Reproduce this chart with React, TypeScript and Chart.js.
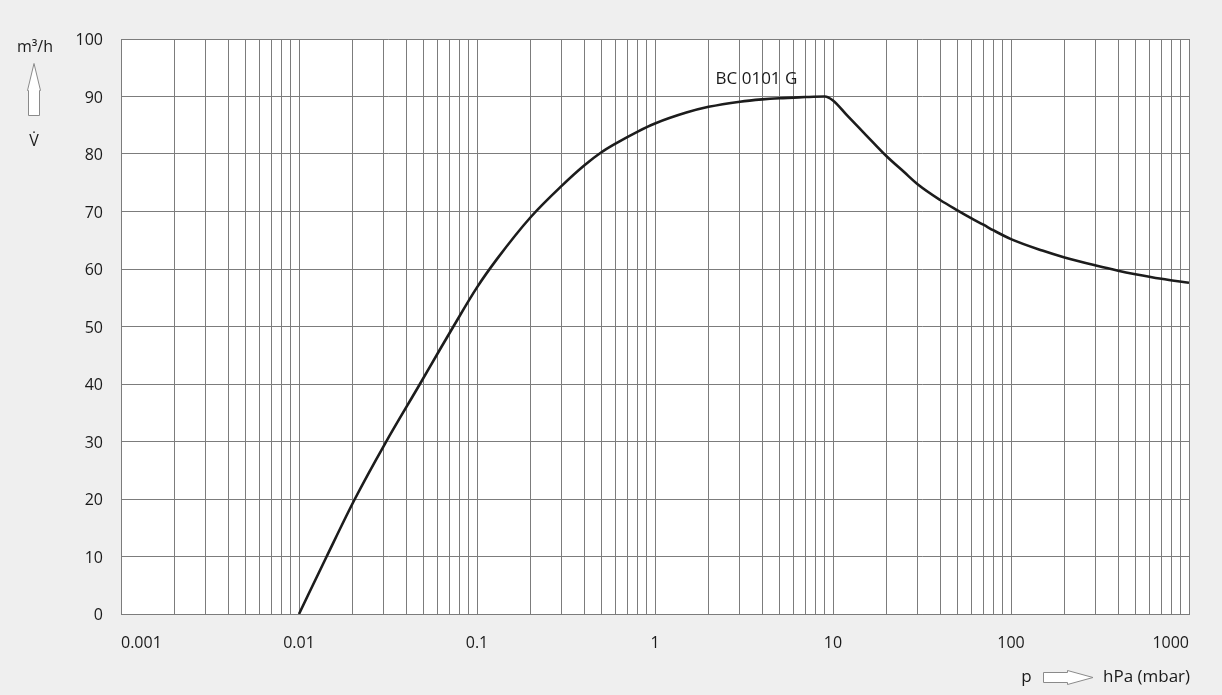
import { useEffect, useRef } from 'react';
import { Chart, registerables } from 'chart.js';

Chart.register(...registerables);

// ---- data ----
const pressure = [
  0.01, 0.0143, 0.0206, 0.0304, 0.0478, 0.0619, 0.0737, 0.1, 0.13, 0.2,
  0.3, 0.4, 0.5, 0.6, 0.8, 1, 1.5, 2, 3, 4,
  5, 6, 7, 9, 10, 12, 15, 20, 25, 30,
  40, 50, 60, 70, 80, 100, 150, 200, 300, 400,
  500, 700, 1000,
];
const flow = [
  0, 10, 20, 29.6, 40, 46, 50, 56.8, 61.8, 69.0,
  74.5, 78.0, 80.3, 81.8, 83.9, 85.3, 87.2, 88.2, 89.1, 89.5,
  89.7, 89.8, 89.9, 90, 89.3, 86.7, 83.6, 79.6, 76.9, 74.7,
  72.0, 70.2, 68.8, 67.7, 66.7, 65.2, 63.2, 62.0, 60.6, 59.7,
  59.1, 58.3, 57.6,
];
const xDecades = [0.001, 0.01, 0.1, 1, 10, 100, 1000];
const xTickLabels = ['0.001', '0.01', '0.1', '1', '10', '100', '1000'];
const yTicks = [0, 10, 20, 30, 40, 50, 60, 70, 80, 90, 100];
const curveLabel = 'BC 0101 G';
const curveLabelAt = [2.19, 93.1];
const yUnit = 'm³/h';
const ySymbol = 'V̇';
const xSymbol = 'p';
const xUnit = 'hPa (mbar)';

const FONT = '"Open Sans", "DejaVu Sans", sans-serif';
const TEXT = '#1a1a1a';
const GRID = '#7c7c7c';

const decor = {
  id: 'decor',
  beforeDraw(chart: any) {
    const { ctx, chartArea: a } = chart;
    ctx.save();
    ctx.fillStyle = '#ffffff';
    ctx.fillRect(a.left, a.top, a.right - a.left, a.bottom - a.top);
    ctx.restore();
  },
  afterDraw(chart: any) {
    const ctx = chart.ctx;
    const xs = chart.scales.x;
    const ys = chart.scales.y;
    ctx.save();
    ctx.font = `17px ${FONT}`;
    ctx.fillStyle = TEXT;
    ctx.textBaseline = 'middle';
    ctx.textAlign = 'left';
    ctx.fillText(curveLabel, xs.getPixelForValue(curveLabelAt[0]), ys.getPixelForValue(curveLabelAt[1]));

    ctx.font = `16px ${FONT}`;
    ctx.textAlign = 'center';
    ctx.textBaseline = 'alphabetic';
    ctx.fillText(yUnit, 35, 52);
    ctx.fillText(ySymbol, 34, 146);

    // up arrow
    ctx.fillStyle = '#ffffff';
    ctx.strokeStyle = '#8a8a8a';
    ctx.lineWidth = 1;
    ctx.beginPath();
    ctx.moveTo(34, 63.5);
    ctx.lineTo(40.5, 90.5);
    ctx.lineTo(39.5, 90.5);
    ctx.lineTo(39.5, 115.5);
    ctx.lineTo(28.5, 115.5);
    ctx.lineTo(28.5, 90.5);
    ctx.lineTo(27.5, 90.5);
    ctx.closePath();
    ctx.fill();
    ctx.stroke();

    // right arrow
    ctx.beginPath();
    ctx.moveTo(1043.5, 672.5);
    ctx.lineTo(1067.5, 672.5);
    ctx.lineTo(1067.5, 670.5);
    ctx.lineTo(1093, 677.5);
    ctx.lineTo(1067.5, 684.5);
    ctx.lineTo(1067.5, 682.5);
    ctx.lineTo(1043.5, 682.5);
    ctx.closePath();
    ctx.fill();
    ctx.stroke();

    ctx.font = `17px ${FONT}`;
    ctx.fillStyle = TEXT;
    ctx.textAlign = 'center';
    ctx.fillText(xSymbol, 1026.5, 682);
    ctx.textAlign = 'left';
    ctx.fillText(xUnit, 1103, 682);
    ctx.restore();
  },
};

export default function App() {
  const ref = useRef<HTMLCanvasElement | null>(null);

  useEffect(() => {
    if (!ref.current) return;
    const points = pressure.map((p, i) => ({ x: p, y: flow[i] }));
    const chart = new Chart(ref.current, {
      type: 'line',
      data: {
        datasets: [
          {
            label: curveLabel,
            data: points,
            borderColor: '#1c1c1c',
            borderWidth: 2.6,
            pointRadius: 0,
            cubicInterpolationMode: 'monotone',
            fill: false,
          },
        ],
      },
      options: {
        animation: false,
        responsive: false,
        devicePixelRatio: 1,
        layout: { padding: { left: 0, right: 33, top: 39, bottom: 0 } },
        plugins: { legend: { display: false }, tooltip: { enabled: false } },
        scales: {
          x: {
            type: 'logarithmic',
            min: 0.001,
            max: 1000,
            afterBuildTicks(scale: any) {
              const ticks: any[] = [];
              for (let d = 0; d < xDecades.length - 1; d++) {
                for (let m = 1; m <= 9; m++) ticks.push({ value: xDecades[d] * m });
              }
              ticks.push({ value: xDecades[xDecades.length - 1] });
              scale.ticks = ticks;
            },
            afterFit(scale: any) {
              scale.height = 81;
            },
            grid: { color: GRID, lineWidth: 1, drawTicks: false },
            border: { color: GRID },
            ticks: {
              autoSkip: false,
              maxRotation: 0,
              align: 'inner',
              padding: 20,
              color: TEXT,
              font: { family: FONT, size: 16 },
              callback(value: any) {
                const idx = xDecades.findIndex((d) => Math.abs(d - value) / d < 1e-6);
                return idx >= 0 ? xTickLabels[idx] : '';
              },
            },
          },
          y: {
            type: 'linear',
            min: 0,
            max: 100,
            afterBuildTicks(scale: any) {
              scale.ticks = yTicks.map((v) => ({ value: v }));
            },
            afterFit(scale: any) {
              scale.width = 121;
            },
            grid: { color: GRID, lineWidth: 1, drawTicks: false },
            border: { color: GRID },
            ticks: {
              padding: 18,
              labelOffset: 1.5,
              color: TEXT,
              font: { family: FONT, size: 16 },
            },
          },
        },
      },
      plugins: [decor],
    } as any);
    return () => chart.destroy();
  }, []);

  return (
    <div
      style={{
        position: 'absolute',
        left: 0,
        top: 0,
        width: 1222,
        height: 695,
        background: '#efefef',
      }}
    >
      <canvas ref={ref} width={1222} height={695} style={{ display: 'block' }} />
    </div>
  );
}
